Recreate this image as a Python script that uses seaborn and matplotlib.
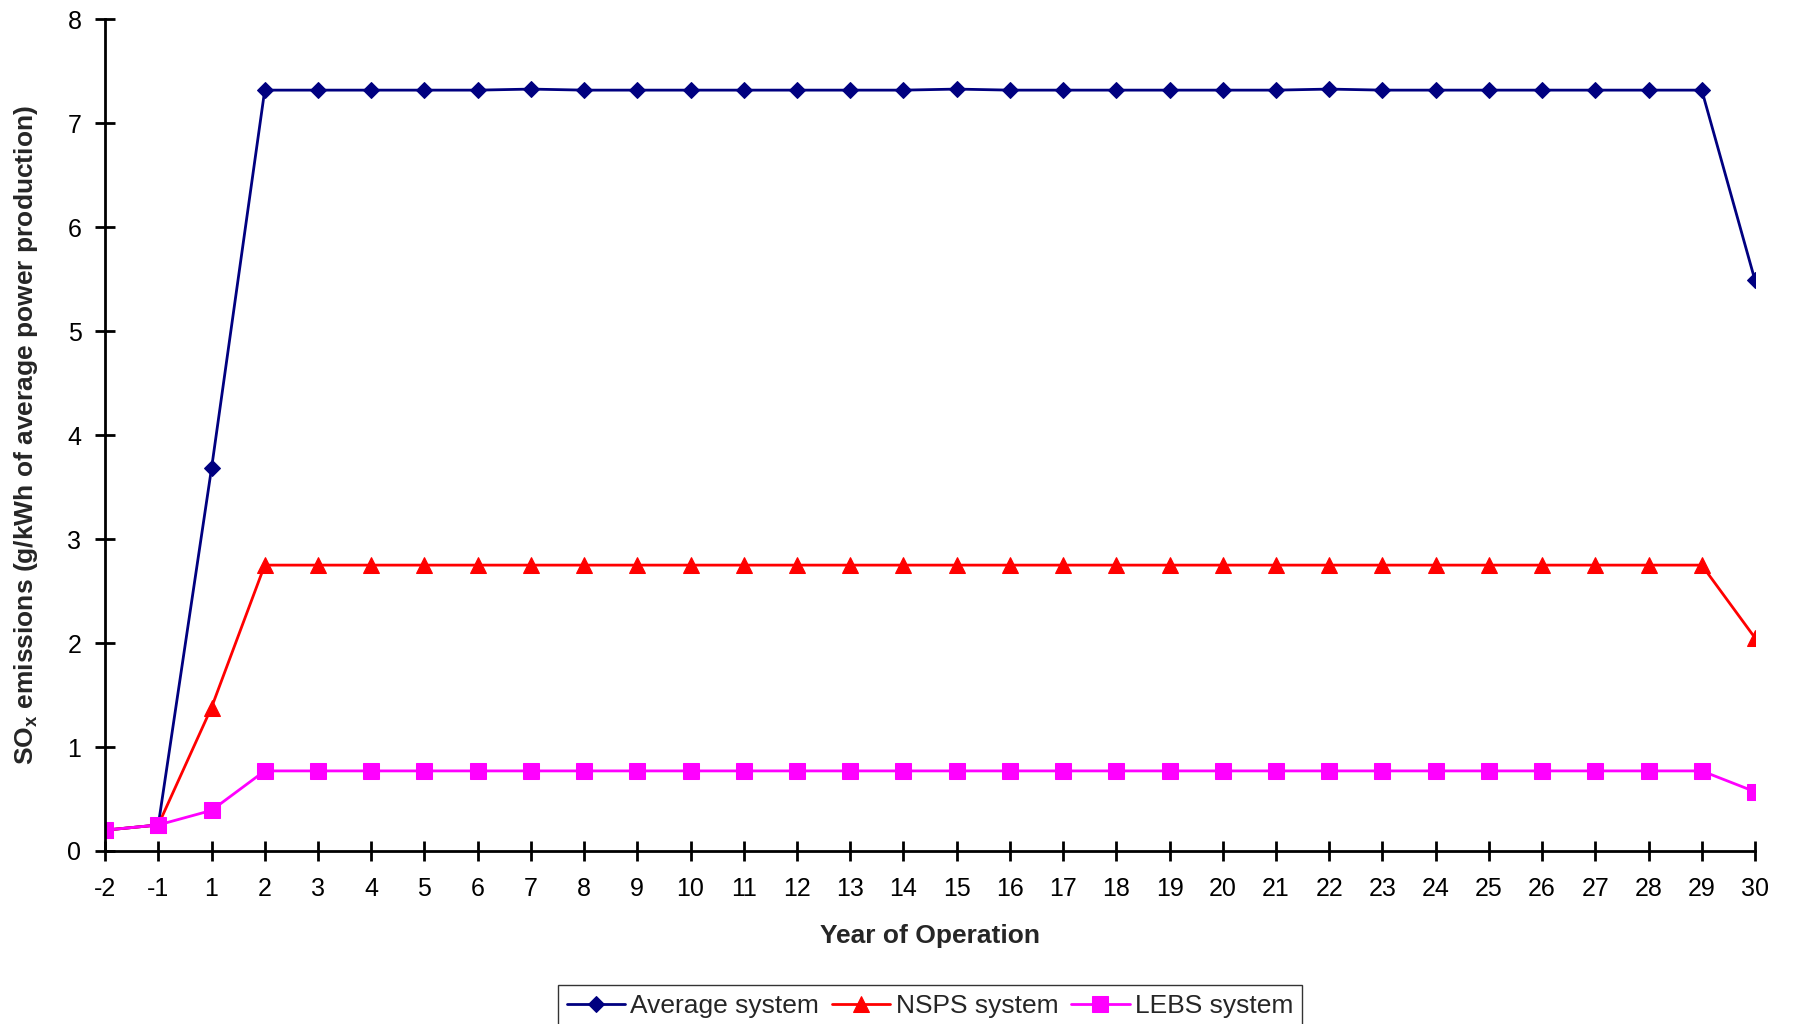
import matplotlib
matplotlib.use("Agg")
import matplotlib.pyplot as plt
import seaborn as sns
import pandas as pd
import numpy as np

years = ["-2", "-1"] + [str(i) for i in range(1, 31)]
# years: -2, -1, 1, 2..29, 30
average = [0.20, 0.25, 3.68,
           7.32, 7.32, 7.32, 7.32, 7.32, 7.33,   # 2-7
           7.32, 7.32, 7.32, 7.32, 7.32, 7.32, 7.32, 7.33,  # 8-15
           7.32, 7.32, 7.32, 7.32, 7.32, 7.32, 7.33,  # 16-22
           7.32, 7.32, 7.32, 7.32, 7.32, 7.32, 7.32,  # 23-29
           5.49]
nsps = [0.20, 0.25, 1.38] + [2.75] * 28 + [2.05]
lebs = [0.20, 0.25, 0.39] + [0.77] * 28 + [0.57]
series_names = ["Average system", "NSPS system", "LEBS system"]
colors = ["#000080", "#FF0000", "#FF00FF"]
markers = ["D", "^", "s"]
msizes = [8, 11, 12]

sns.set_theme(style="white")
plt.rcParams['font.family'] = ['Liberation Sans', 'DejaVu Sans']

rows = []
for name, vals in zip(series_names, [average, nsps, lebs]):
    for i, (yr, v) in enumerate(zip(years, vals)):
        rows.append({"pos": i, "year": yr, "value": v, "system": name})
df = pd.DataFrame(rows)

fig = plt.figure(figsize=(17.93, 10.24), dpi=100)
ax = fig.add_axes([0.0586, 0.169, 0.9202, 0.812])

for name, c, m, ms in zip(series_names, colors, markers, msizes):
    sub = df[df.system == name]
    sns.lineplot(data=sub, x="pos", y="value", ax=ax, color=c, marker=m,
                 markersize=ms, markeredgecolor=c, linewidth=2, label=name)

ax.set_xlim(0, len(years) - 1)
ax.set_ylim(0, 8)
ax.set_xticks(range(len(years)))
ax.set_xticklabels(years)
ax.set_yticks(range(0, 9))
ax.tick_params(axis="both", direction="inout", length=14, width=2, labelsize=18,
               color="black", labelcolor="black", bottom=True, left=True)
ax.tick_params(axis="x", pad=12)
ax.tick_params(axis="y", pad=10)
for s in ["top", "right"]:
    ax.spines[s].set_visible(False)
for s in ["left", "bottom"]:
    ax.spines[s].set_color("black")
    ax.spines[s].set_linewidth(2)

ax.set_xlabel("Year of Operation", fontsize=19, fontweight="bold", labelpad=16)
ax.set_ylabel("SO$_\\mathregular{x}$ emissions (g/kWh of average power production)",
              fontsize=19, fontweight="bold", labelpad=20)

leg = ax.legend(loc="upper center", bbox_to_anchor=(0.5, -0.145), ncol=3,
                frameon=True, fontsize=19, handlelength=2.2, handletextpad=0.2,
                columnspacing=0.5, borderpad=0.35, fancybox=False)
leg.get_frame().set_edgecolor("black")
leg.get_frame().set_linewidth(1)

fig.savefig("out.png", dpi=100, facecolor="white")
